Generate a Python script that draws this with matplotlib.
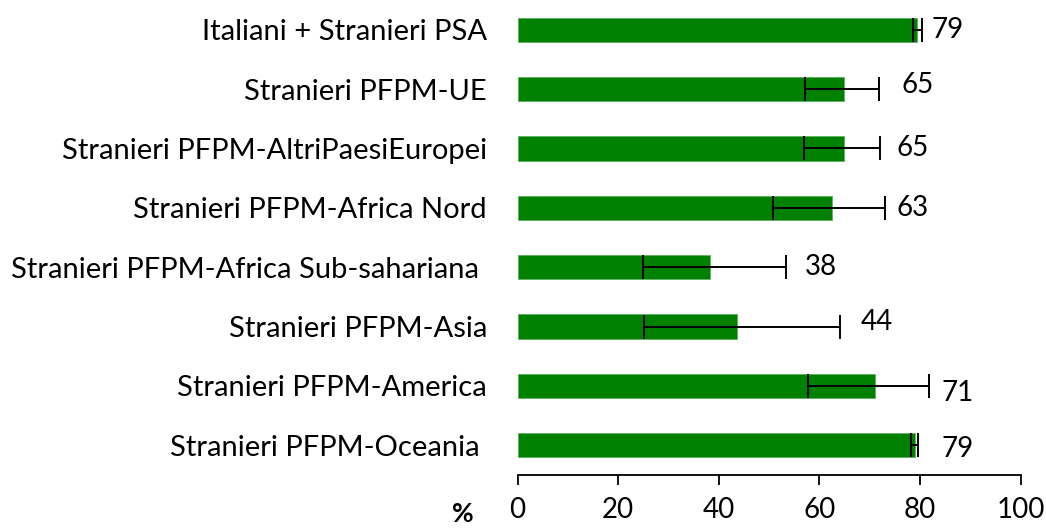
import matplotlib
matplotlib.use("Agg")
import matplotlib.pyplot as plt
import numpy as np

# ── Data ───────────────────────────────────────────────────────────────────────
categories = [
    "Italiani + Stranieri PSA",
    "Stranieri PFPM-UE",
    "Stranieri PFPM-AltriPaesiEuropei",
    "Stranieri PFPM-Africa Nord",
    "Stranieri PFPM-Africa Sub-sahariana ",
    "Stranieri PFPM-Asia",
    "Stranieri PFPM-America",
    "Stranieri PFPM-Oceania ",
]
values = [79.4, 64.9, 64.9, 62.5, 38.2, 43.6, 71.1, 78.9]
ci_low = [78.6, 57.1, 57.0, 50.8, 25.0, 25.2, 57.7, 78.2]
ci_high = [80.3, 71.8, 72.1, 73.1, 53.3, 64.0, 81.7, 79.6]
value_labels = ["79", "65", "65", "63", "38", "44", "71", "79"]
x_ticks = [0, 20, 40, 60, 80, 100]

# label nudges (points) as placed in the original
LABEL_DX = [7, 16, 12, 8, 14, 15, 9, 17]
LABEL_DY = [0, 3, 0, 0, 0, 3, -5, -2.5]

GREEN = "#008000"

plt.rcParams.update({"font.family": "Lato"})

fig = plt.figure(figsize=(10.46, 5.29), dpi=100)
ax = fig.add_axes([517.5 / 1046, 1 - 475 / 529, 503.2 / 1046, 475 / 529])

y = np.arange(len(categories))
vals = np.array(values)
err = np.array([vals - np.array(ci_low), np.array(ci_high) - vals])

ax.barh(y, vals, height=0.41, color=GREEN, edgecolor="#5fb05f", linewidth=0.6)
ax.errorbar(vals, y, xerr=err, fmt="none", ecolor="black",
            elinewidth=1.4, capsize=8.5, capthick=1.4)

for yi, hi, lab, dx, dy in zip(y, ci_high, value_labels, LABEL_DX, LABEL_DY):
    ax.annotate(lab, xy=(hi, yi), xytext=(dx, dy), textcoords="offset points",
                ha="left", va="center", fontsize=20)

ax.set_xlim(0, 100)
ax.set_ylim(len(categories) - 0.5, -0.5)
ax.set_xticks(x_ticks)
ax.set_xticklabels([str(t) for t in x_ticks], fontsize=20)
ax.set_yticks(y)
ax.set_yticklabels(categories, fontsize=21)

for s in ["top", "right", "left"]:
    ax.spines[s].set_visible(False)
ax.spines["bottom"].set_linewidth(1.3)
ax.tick_params(axis="y", length=0, pad=22)
ax.tick_params(axis="x", direction="out", length=7.5, width=1.3, pad=8)

fig.text(463 / 1046, 1 - 514 / 529, "%", fontsize=19, fontweight="bold",
         ha="center", va="center")

fig.savefig("out.png", dpi=100)
